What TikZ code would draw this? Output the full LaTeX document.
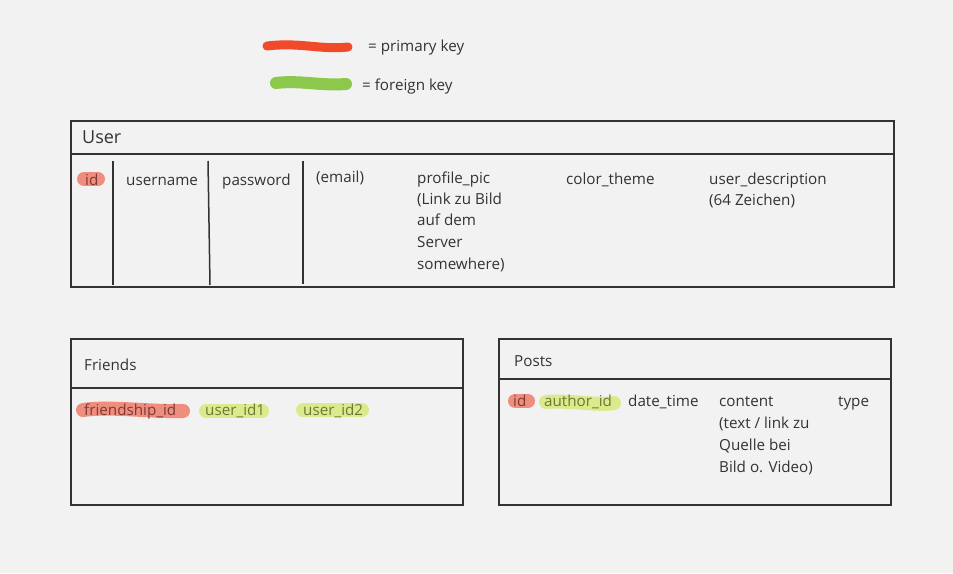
\documentclass[tikz,border=0pt]{standalone}
\usepackage{fontspec}
\setmainfont{Open Sans}
\definecolor{bg}{HTML}{F2F2F2}
\definecolor{ink}{HTML}{333333}
\definecolor{pkleg}{HTML}{F04A2A}
\definecolor{fkleg}{HTML}{8BC84C}
\definecolor{pkhl}{HTML}{EF8E7E}
\definecolor{fkhl}{HTML}{DCE98C}
\definecolor{pktext}{HTML}{7E3A32}
\definecolor{fktext}{HTML}{6E7A34}
\begin{document}
\begin{tikzpicture}[x=1pt,y=-1pt,
  txt/.style={anchor=base west,inner sep=0pt,font=\fontsize{15.2}{18}\selectfont,text=ink},
  title/.style={anchor=base west,inner sep=0pt,font=\fontsize{18}{21}\selectfont,text=ink},
  tablebox/.style={draw=ink,line width=1.3pt},
  sep/.style={draw=ink,line width=1.5pt},
  pkmark/.style={draw=pkhl,line width=14pt,line cap=round},
  fkmark/.style={draw=fkhl,line width=14pt,line cap=round},
  pkt/.style={txt,text=pktext},
  fkt/.style={txt,text=fktext}]
\fill[bg] (0,0) rectangle (953,573);
\useasboundingbox (0,0) rectangle (953,573);

% legend
\coordinate (lr1) at (267,46); \coordinate (lr2) at (348,47);
\coordinate (lg1) at (276,83); \coordinate (lg2) at (346,84);
\draw[pkleg,line width=9pt,line cap=round] (lr1) .. controls (300,42) and (320,50) .. (lr2);
\draw[fkleg,line width=12pt,line cap=round] (lg1) .. controls (300,80) and (320,86) .. (lg2);
\node[txt] (lpk) at (368,51) {= primary key};
\node[txt] (lfk) at (362,90) {= foreign key};

% User table
\draw[tablebox] (71,121) rectangle (894,287);
\draw[sep] (72,154) -- (893,154);
\node[title] (user) at (82,143) {User};
\draw[sep] (113,161) -- (113,285);
\draw[sep] (208,161) -- (210,285);
\draw[sep] (303,161) -- (303,284);
\draw[pkmark] (84,179) -- (98,179);
\node[pkt] (uid) at (85,185) {id};
\node[txt] (uname) at (126,185) {username};
\node[txt] (upw) at (222,185) {password};
\node[txt] (umail) at (316,182) {(email)};
\node[txt] (upic1) at (417,183) {profile\_pic};
\node[txt] (upic2) at (417,204) {(Link zu Bild};
\node[txt] (upic3) at (417,225) {auf dem};
\node[txt] (upic4) at (417,247) {Server};
\node[txt] (upic5) at (417,269) {somewhere)};
\node[txt] (ucol) at (566,184) {color\_theme};
\node[txt] (udesc1) at (709,184) {user\_description};
\node[txt] (udesc2) at (709,205) {(64 Zeichen)};

% Friends table
\draw[tablebox] (71,339) rectangle (463,505);
\draw[sep] (72,388) -- (462,388);
\node[txt] (friends) at (84,370) {Friends};
\draw[pkmark] (83,410) .. controls (110,406) and (150,412) .. (183,411);
\node[pkt] (fid) at (84,415) {friendship\_id};
\draw[fkmark] (206,411) -- (262,411);
\node[fkt] (fu1) at (205,415) {user\_id1};
\draw[fkmark] (303,410) -- (362,410);
\node[fkt] (fu2) at (303,415) {user\_id2};

% Posts table
\draw[tablebox] (499,339) rectangle (891,505);
\draw[sep] (500,379) -- (890,379);
\node[txt] (posts) at (514,366) {Posts};
\draw[pkmark] (515,401) -- (528,401);
\node[pkt] (pid) at (513,406) {id};
\draw[fkmark] (546,402) .. controls (570,400) and (600,406) .. (614,403);
\node[fkt] (paut) at (544,406) {author\_id};
\node[txt] (pdate) at (628,406) {date\_time};
\node[txt] (pc1) at (719,406) {content};
\node[txt] (pc2) at (719,428) {(text / link zu};
\node[txt] (pc3) at (719,450) {Quelle bei};
\node[txt] (pc4) at (719,472) {Bild o. Video)};
\node[txt] (ptype) at (838,406) {type};
\end{tikzpicture}
\end{document}
